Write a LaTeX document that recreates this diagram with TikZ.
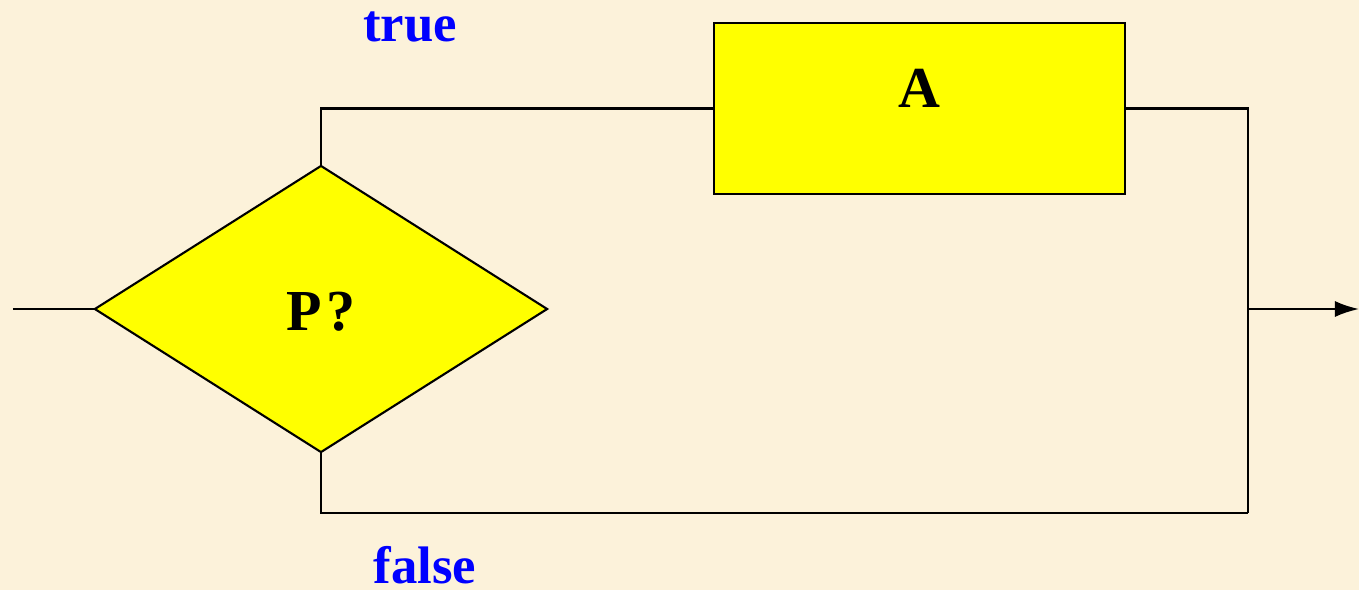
\documentclass[tikz,border=0pt]{standalone}
\usepackage{fontspec}
\setmainfont{Liberation Serif}
\usetikzlibrary{arrows.meta,shapes.geometric}
\definecolor{paperbg}{HTML}{FCF2DA}
\definecolor{boxyellow}{HTML}{FFFF00}
\definecolor{labelblue}{HTML}{0000FF}
\tikzset{
  >={Latex[length=2.4mm,width=1.6mm]},
  flow/.style={draw=black,line width=.6pt},
  decision/.style={diamond,draw=black,fill=boxyellow,line width=.6pt,inner sep=0pt,outer sep=0pt,
    minimum width=4.52cm,minimum height=2.86cm,font=\bfseries\fontsize{16.5}{18}\selectfont},
  action/.style={rectangle,draw=black,fill=boxyellow,line width=.6pt,inner sep=0pt,outer sep=0pt,
    minimum width=4.11cm,minimum height=1.71cm},
  branchlabel/.style={text=labelblue,font=\bfseries\fontsize{15}{17}\selectfont,inner sep=0pt}
}
\begin{document}
\begin{tikzpicture}[x=0.01cm,y=-0.01cm]
  % Paper background fixes the page size.
  \fill[paperbg] (0,0) rectangle (1359,590);
  \useasboundingbox (0,0) rectangle (1359,590);

  % Decision and action nodes.
  \node[decision] (test) at (321,309) {};
  \node[font=\bfseries\fontsize{16.5}{18}\selectfont] (testtext) at (321,312) {P\hspace{.08em}?};
  \node[action] (actA) at (919.5,108.5) {};
  \node[font=\bfseries\fontsize{16.5}{18}\selectfont] (actAtext) at (919,88) {A};

  \coordinate (entry) at (13,309);
  \coordinate (merge) at (1248,513);
  \coordinate (exitjoin) at (1248,309);
  \coordinate (exit) at (1359,309);

  % Branch labels.
  \node[branchlabel] (truelabel) at (410,27) {true};
  \node[branchlabel] (falselabel) at (425,565) {false};

  % Connectors.
  \draw[flow] (entry) -- (test.west);
  \draw[flow] (test.north) |- (actA.west);
  \draw[flow] (actA.east) -| (merge);
  \draw[flow] (test.south) |- (merge);
  \draw[flow,->] (exitjoin) -- (exit);
\end{tikzpicture}
\end{document}
